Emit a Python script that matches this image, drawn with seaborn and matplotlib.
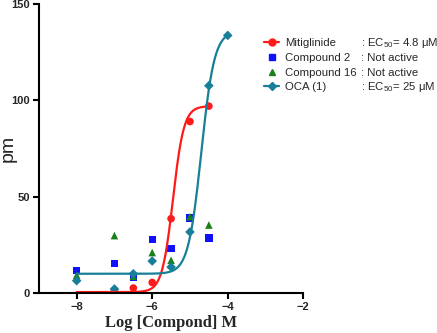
import numpy as np
import pandas as pd
import matplotlib.pyplot as plt
import seaborn as sns
from matplotlib.lines import Line2D

# measured points (log M vs pm)
mit_x = [-7, -6.5, -6, -5.5, -5, -4.5]
mit_y = [1.5, 2.6, 5.5, 38.6, 89, 97]
c2_x = [-8, -7, -6.5, -6, -5.5, -5, -4.5]
c2_y = [11.6, 15.4, 8.3, 27.7, 23, 39, 28.5]
c16_x = [-8, -7, -6.5, -6, -5.5, -5, -4.5]
c16_y = [9.3, 29.8, 8.7, 21, 17, 39.6, 35.3]
oca_x = [-8, -7, -6.5, -6, -5.5, -5, -4.5, -4]
oca_y = [6.4, 2.1, 10, 16.6, 13.5, 31.7, 107.6, 133.7]

# fitted curve parameters (bottom, top, logEC50, hill), x range
mit_fit = (0.5, 97, -5.45, 3.0)
mit_range = (-8, -4.5)
oca_fit = (10, 136, -4.7, 2.5)
oca_range = (-8, -4)

names = ["Mitiglinide", "Compound 2", "Compound 16", "OCA (1)"]
notes = [": EC$_{50}$= 4.8 \u03bcM", ": Not active", ": Not active", ": EC$_{50}$= 25 \u03bcM"]

red = "#ff1a1a"
blue = "#1010ff"
green = "#1a801a"
teal = "#177f98"


def curve(p, rng):
    b, t, ec, h = p
    xs = np.linspace(rng[0], rng[1], 200)
    return pd.DataFrame({"x": xs, "y": b + (t - b) / (1 + 10 ** ((ec - xs) * h))})


sns.set_style("ticks")
plt.rcParams["font.family"] = ["Liberation Sans", "DejaVu Sans"]
plt.rcParams["mathtext.default"] = "regular"

fig = plt.figure(figsize=(4.37, 3.33), dpi=100)
ax = fig.add_axes([0.089, 0.12, 0.605, 0.868])

sns.lineplot(data=curve(mit_fit, mit_range), x="x", y="y", color=red, lw=1.6, ax=ax)
sns.scatterplot(x=mit_x, y=mit_y, color=red, marker="o", s=30, edgecolor="none", ax=ax)
sns.scatterplot(x=c2_x, y=c2_y, color=blue, marker="s", s=28, edgecolor="none", ax=ax)
sns.scatterplot(x=c16_x, y=c16_y, color=green, marker="^", s=30, edgecolor="none", ax=ax)
sns.lineplot(data=curve(oca_fit, oca_range), x="x", y="y", color=teal, lw=1.6, ax=ax)
sns.scatterplot(x=oca_x, y=oca_y, color=teal, marker="D", s=24, edgecolor="none", ax=ax)

ax.set_xlim(-9, -2)
ax.set_ylim(0, 150)
ax.set_xticks([-8, -6, -4, -2])
ax.set_yticks([0, 50, 100, 150])
sns.despine(ax=ax)
for s in ["left", "bottom"]:
    ax.spines[s].set_linewidth(1.5)
    ax.spines[s].set_color("black")
ax.tick_params(width=1.5, length=4, color="black", labelsize=8, pad=2.5)
for lab in ax.get_xticklabels() + ax.get_yticklabels():
    lab.set_fontweight("bold")

ax.set_xlabel("Log [Compond] M", fontsize=12, fontweight="bold",
              family="Liberation Serif", labelpad=2)
ax.set_ylabel("pm", fontsize=14)
ax.yaxis.set_label_coords(-0.083, 0.5)

fs = 8.2
handles = [
    Line2D([], [], color=red, marker="o", markersize=5, lw=1.6),
    Line2D([], [], color=blue, marker="s", markersize=4.5, ls="none"),
    Line2D([], [], color=green, marker="^", markersize=5, ls="none"),
    Line2D([], [], color=teal, marker="D", markersize=4.5, lw=1.6),
]
leg = fig.legend(handles, names, loc="upper left",
                 bbox_to_anchor=(0.587, 0.91), frameon=False, fontsize=fs,
                 handlelength=1.3, handletextpad=0.5,
                 labelspacing=0.42, borderpad=0.2)

# second "column" of the legend: the EC50 notes, lined up on each name's baseline
fig.canvas.draw()
rend = fig.canvas.get_renderer()
H = fig.bbox.height
for t, note in zip(leg.get_texts(), notes):
    bb = t.get_window_extent(rend)
    _, _, d = rend.get_text_width_height_descent(t.get_text(), t.get_fontproperties(), ismath=False)
    fig.text(0.826, (bb.y0 + d) / H, note, fontsize=fs, va="baseline", ha="left")

fig.savefig("out.png", dpi=100)
